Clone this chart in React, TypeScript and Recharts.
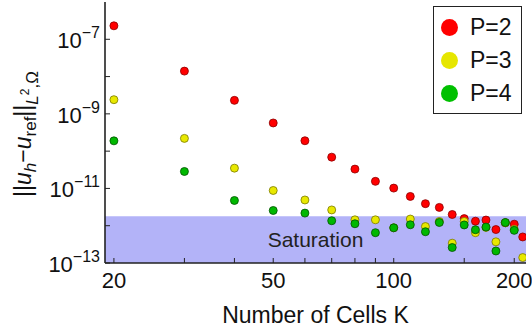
import React from 'react';
import { ScatterChart, Scatter, XAxis, YAxis, ReferenceArea, Legend, Label } from 'recharts';

// Mesh sizes K and the L2 error for each polynomial degree
const cellCounts = [20, 30, 40, 50, 60, 70, 80, 90, 100, 110, 120, 130, 140, 150, 160, 170, 180, 190, 200, 210];
const errorP2 = [2.3e-7, 1.4e-8, 2.3e-9, 5.7e-10, 1.9e-10, 6.9e-11, 3.3e-11, 1.55e-11, 1.02e-11, 6.1e-12, 3.9e-12, 3.1e-12, 2.0e-12, 1.55e-12, 1.32e-12, 1.42e-12, 7.9e-13, 1.2e-12, 1.1e-12, 5.0e-13];
const errorP3 = [2.4e-9, 2.2e-10, 3.5e-11, 8.8e-12, 4.9e-12, 2.65e-12, 1.44e-12, 1.44e-12, 8.8e-13, 1.51e-12, 9.5e-13, 1.3e-12, 3.4e-13, 1.3e-12, 6.5e-13, 9.0e-13, 3.7e-13, 1.2e-12, 8.0e-13, 1.4e-13];
const errorP4 = [1.89e-10, 2.85e-11, 4.75e-12, 2.56e-12, 2.18e-12, 1.36e-12, 1.13e-12, 6.5e-13, 8.8e-13, 1.06e-12, 6.9e-13, 1.22e-12, 2.6e-13, 1.05e-12, 7.8e-13, 9.2e-13, 2.1e-13, 1.22e-12, 7.5e-13, null];

const seriesNames = ['P=2', 'P=3', 'P=4'];

// Axis ticks
const xTicks = [20, 30, 40, 50, 60, 70, 80, 90, 100, 150, 200];
const xTickLabels = [20, 50, 100, 200];
const yTicks = [1e-13, 1e-12, 1e-11, 1e-10, 1e-9, 1e-8, 1e-7];
const yLabelExponents = [-13, -11, -9, -7];

const xDomain = [19, 214];
const yDomain = [1e-13, 1e-6];

// Saturation band
const saturationLow = 1e-13;
const saturationHigh = 1.8e-12;

const FONT = '"Liberation Sans", Arial, Helvetica, sans-serif';
const INK = '#111';
const FRAME = '#222';

const toPoints = (errs: (number | null)[]) =>
  cellCounts
    .map((k, i) => ({ k, err: errs[i] }))
    .filter((p) => p.err != null);

const dotShape = (fill: string, stroke: string) => (props: any) => (
  <circle cx={props.cx} cy={props.cy} r={4} fill={fill} stroke={stroke} strokeWidth={0.8} />
);

const XTick = (props: any) => {
  const { x, y, payload } = props;
  if (!xTickLabels.includes(payload.value)) return <g />;
  return (
    <text x={x} y={y + 25} textAnchor="middle" fontSize={22} fontFamily={FONT} fill={INK}>
      {payload.value}
    </text>
  );
};

const YTick = (props: any) => {
  const { x, y, payload } = props;
  const exp = Math.round(Math.log10(payload.value));
  if (!yLabelExponents.includes(exp)) return <g />;
  return (
    <text x={x} y={y + 9} textAnchor="end" fontSize={22} fontFamily={FONT} fill={INK}>
      10
      <tspan dy={-10} fontSize={16}>
        {'\u2212' + Math.abs(exp)}
      </tspan>
    </text>
  );
};

const YTitle = (props: any) => {
  const vb = props.viewBox || { x: 0, y: 2, width: 105, height: 261 };
  const cx = vb.x + 31;
  const cy = vb.y + vb.height / 2 + 1.5;
  return (
    <text
      transform={`translate(${cx},${cy}) rotate(-90)`}
      textAnchor="middle"
      fontSize={23}
      fontFamily={FONT}
      fill={INK}
    >
      <tspan>||</tspan>
      <tspan fontStyle="italic">u</tspan>
      <tspan fontSize={17} fontStyle="italic" dy={5}>h</tspan>
      <tspan dy={-5}>{'\u2212'}</tspan>
      <tspan fontStyle="italic">u</tspan>
      <tspan fontSize={17} dy={5}>ref</tspan>
      <tspan dy={-5}>||</tspan>
      <tspan fontSize={17} fontStyle="italic" dy={7}>L</tspan>
      <tspan fontSize={12} dy={-9}>2</tspan>
      <tspan fontSize={17} dy={9}>,{'\u03A9'}</tspan>
    </text>
  );
};

const XTitle = (props: any) => {
  const vb = props.viewBox || { x: 105, y: 263, width: 421, height: 70 };
  return (
    <text x={vb.x + vb.width / 2} y={vb.y + 60} textAnchor="middle" fontSize={23} fontFamily={FONT} fill={INK}>
      Number of Cells K
    </text>
  );
};

const SaturationText = (props: any) => {
  const vb = props.viewBox || { x: 105, y: 217, width: 421, height: 46 };
  return (
    <text x={vb.x + vb.width / 2} y={vb.y + vb.height - 16} textAnchor="middle" fontSize={21} fontFamily={FONT} fill="#222">
      Saturation
    </text>
  );
};

const legendColors = ['#ff0000', '#e6e600', '#00c000'];

const LegendBox = (props: any) => {
  const payload = props.payload || [];
  return (
    <div
      style={{
        border: `1.5px solid ${FRAME}`,
        background: '#fff',
        width: 89,
        height: 108,
        boxSizing: 'border-box',
        padding: '4px 0 0 7px',
        fontFamily: FONT,
        fontSize: 23,
        color: INK,
      }}
    >
      {seriesNames.map((name, i) => {
        const entry = payload.find((p: any) => p.value === name);
        const color = legendColors[i] || (entry && entry.color);
        return (
          <div key={name} style={{ display: 'flex', alignItems: 'center', height: 33 }}>
            <span
              style={{
                display: 'inline-block',
                width: 17,
                height: 17,
                borderRadius: '50%',
                background: color,
                marginRight: 12,
              }}
            />
            <span style={{ lineHeight: '23px' }}>{name}</span>
          </div>
        );
      })}
    </div>
  );
};

export default function App() {
  return (
    <div style={{ position: 'absolute', left: 0, top: 0, background: '#fff' }}>
      <ScatterChart width={532} height={333} margin={{ top: 2, right: 6, bottom: 0, left: 0 }}>
        <ReferenceArea
          x1={xDomain[0]}
          x2={xDomain[1]}
          y1={saturationLow}
          y2={saturationHigh}
          fill="#b3b3f8"
          fillOpacity={1}
          stroke="none"
          ifOverflow="hidden"
          label={<SaturationText />}
        />
        <XAxis
          dataKey="k"
          type="number"
          scale="log"
          domain={xDomain}
          allowDataOverflow
          ticks={xTicks}
          interval={0}
          height={70}
          tickSize={-5}
          tickMargin={5}
          tick={<XTick />}
          tickLine={{ stroke: FRAME, strokeWidth: 1 }}
          axisLine={{ stroke: FRAME, strokeWidth: 1.6 }}
        >
          <Label content={<XTitle />} />
        </XAxis>
        <XAxis
          xAxisId="top"
          orientation="top"
          type="number"
          scale="log"
          domain={xDomain}
          allowDataOverflow
          ticks={xTicks}
          interval={0}
          height={0}
          tickSize={-5}
          tick={false}
          tickLine={{ stroke: FRAME, strokeWidth: 1 }}
          axisLine={{ stroke: FRAME, strokeWidth: 1.6 }}
        />
        <YAxis
          dataKey="err"
          type="number"
          scale="log"
          domain={yDomain}
          allowDataOverflow
          ticks={yTicks}
          interval={0}
          width={105}
          tickSize={-5}
          tickMargin={10}
          tick={<YTick />}
          tickLine={{ stroke: FRAME, strokeWidth: 1 }}
          axisLine={{ stroke: FRAME, strokeWidth: 1.6 }}
        >
          <Label content={<YTitle />} />
        </YAxis>
        <YAxis
          yAxisId="right"
          orientation="right"
          type="number"
          scale="log"
          domain={yDomain}
          allowDataOverflow
          ticks={yTicks}
          interval={0}
          width={0}
          tickSize={-5}
          tick={false}
          tickLine={{ stroke: FRAME, strokeWidth: 1 }}
          axisLine={{ stroke: FRAME, strokeWidth: 1.6 }}
        />
        <Scatter
          name={seriesNames[0]}
          data={toPoints(errorP2)}
          fill="#ff0000"
          legendType="circle"
          shape={dotShape('#ff0000', '#8a0000')}
          isAnimationActive={false}
        />
        <Scatter
          name={seriesNames[1]}
          data={toPoints(errorP3)}
          fill="#e6e600"
          legendType="circle"
          shape={dotShape('#e8e800', '#7a7a00')}
          isAnimationActive={false}
        />
        <Scatter
          name={seriesNames[2]}
          data={toPoints(errorP4)}
          fill="#00c000"
          legendType="circle"
          shape={dotShape('#00b800', '#005000')}
          isAnimationActive={false}
        />
        <Legend
          layout="vertical"
          align="center"
          verticalAlign="middle"
          content={<LegendBox />}
          wrapperStyle={{ top: 6, left: 433, width: 89, height: 108 }}
        />
      </ScatterChart>
    </div>
  );
}
